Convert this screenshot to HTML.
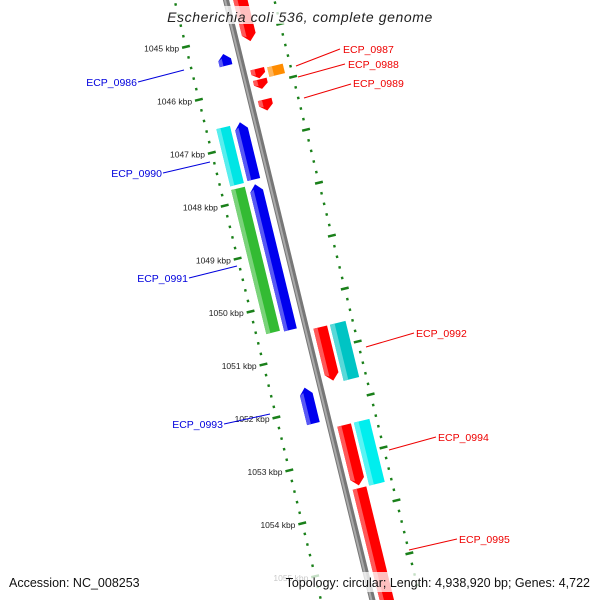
<!DOCTYPE html>
<html><head><meta charset="utf-8"><style>
html,body{margin:0;padding:0;background:#fff;width:600px;height:600px;overflow:hidden;}
svg{display:block;font-family:"Liberation Sans","DejaVu Sans",sans-serif;overflow:hidden;}
</style></head><body>
<svg id="map" width="600" height="600" viewBox="0 0 600 600" xmlns="http://www.w3.org/2000/svg">
<g id="ring"></g>
<g id="genes"></g>
<g id="labels"></g>
<g>
<rect x="160" y="6" width="280" height="18" fill="#fff" opacity="0.75"/>
<text x="300" y="22" text-anchor="middle" font-size="14" font-style="italic" fill="#222" letter-spacing="0.6">Escherichia coli 536, complete genome</text>
</g>
<g>
<rect x="255" y="572" width="340" height="20" fill="#fff" opacity="0.75"/>
<text x="9" y="587" font-size="12.5" fill="#111">Accession: NC_008253</text>
<text x="590" y="587" text-anchor="end" font-size="12.5" fill="#111">Topology: circular; Length: 4,938,920 bp; Genes: 4,722</text>
</g>
</svg>
<script>
const tickKbp=[1045,1046,1047,1048,1049,1050,1051,1052,1053,1054,1055];
const geneNames=['g-top','ECP_0986','ECP_0987','ECP_0989','ECP_0988','g-red-c','ECP_0990','g-blue-a','ECP_0991','g-blue-b','ECP_0992','g-cyan-a','ECP_0993','ECP_0994','g-cyan-b','ECP_0995'];
const geneStart=[1043.97,1045.29,1045.70,1045.90,1045.72,1046.28,1046.60,1046.58,1047.75,1047.75,1050.58,1050.58,1051.59,1052.43,1052.43,1053.62];
const geneEnd=[1045.18,1045.51,1045.88,1046.08,1045.90,1046.49,1047.68,1047.66,1050.47,1050.50,1051.59,1051.64,1052.27,1053.57,1053.62,1056.08];
const geneStrand=[1,-1,1,1,0,1,0,-1,0,-1,1,0,-1,1,0,1];
const geneLane=['r1','l1','r1','r1','r2','r1','l2','l1','l2','l1','r1','r2','l1','r1','r2','r1'];
const geneColor=['#ff0000','#0000ee','#ff0000','#ff0000','#ff8c00','#ff0000','#00e5e5','#0000ee','#33bb33','#0000ee','#ff0000','#00c4c4','#0000ee','#ff0000','#00eeee','#ff0000'];
const NS='http://www.w3.org/2000/svg';
const TH=Math.atan(0.244),C=Math.cos(TH),S=Math.sin(TH);
const X0=226,V0=36,PER=54.5;
function vOf(k){return V0+(k-1045)*PER;}
function pt(u,v){return [X0+u*C+v*S,-u*S+v*C];}
const lanes={l1:[-22,-9],l2:[-40,-26],r1:[7,21],r2:[24,40]};
function mk(tag,attrs,parent){const e=document.createElementNS(NS,tag);for(const k in attrs)e.setAttribute(k,attrs[k]);parent.appendChild(e);return e;}
const ring=document.getElementById('ring');
{const a=pt(0,-40),b=pt(0,640);
const l1=mk('line',{x1:a[0],y1:a[1],x2:b[0],y2:b[1],stroke:'#777','stroke-width':6},ring);


const l2=mk('line',{x1:a[0]-1,y1:a[1],x2:b[0]-1,y2:b[1],stroke:'#aaa','stroke-width':2},ring);

}
for(let k=1044;k<=1055.61;k+=0.2){
 const kk=Math.round(k*10)/10;const major=Math.abs(kk-Math.round(kk))<0.01;
 [-50,47].forEach(u=>{
  const v=vOf(kk);const hl=major?4:1.2;
  const a=pt(u-hl,v),b=pt(u+hl,v);
  const t=mk('line',{x1:a[0],y1:a[1],x2:b[0],y2:b[1],stroke:'#1a801a','stroke-width':2.5},ring);
  
  
 });
}
tickKbp.forEach(k=>{
 const p=pt(-57,vOf(k));
 const t=mk('text',{x:p[0],y:p[1]+3,'text-anchor':'end','font-size':'8.5',fill:'#222'},ring);
 t.textContent=k+' kbp';
 
 
});
function lighten(c){const n=parseInt(c.slice(1),16);let r=n>>16,g=(n>>8)&255,b=n&255;r=Math.round(r+(255-r)*0.35);g=Math.round(g+(255-g)*0.35);b=Math.round(b+(255-b)*0.35);return 'rgb('+r+','+g+','+b+')';}
const G=document.getElementById('genes');
geneNames.forEach((nm,i)=>{
 const [u0,u1]=lanes[geneLane[i]];const a=vOf(geneStart[i]),b=vOf(geneEnd[i]);const um=(u0+u1)/2;const s=geneStrand[i];const h=Math.min(7,(b-a)/2);
 let P;
 if(s===1)P=[[u0,a],[u1,a],[u1,b-h],[um,b],[u0,b-h]];
 else if(s===-1)P=[[um,a],[u1,a+h],[u1,b],[u0,b],[u0,a+h]];
 else P=[[u0,a],[u1,a],[u1,b],[u0,b]];
 const g=mk('g',{},G);
 
 
 const poly=mk('polygon',{points:P.map(q=>pt(q[0],q[1]).join(',')).join(' '),fill:geneColor[i]},g);
 
 
 const w=(u1-u0)*0.3;
 const st=[[u0,a+(s===-1?h:0)],[u0+w,a+(s===-1?h*0.7:0)],[u0+w,b-(s===1?h*0.7:0)],[u0,b-(s===1?h:0)]];
 const hi=mk('polygon',{points:st.map(q=>pt(q[0],q[1]).join(',')).join(' '),fill:lighten(geneColor[i])},g);
 
 
});
const labelText=['ECP_0986','ECP_0990','ECP_0991','ECP_0993','ECP_0987','ECP_0988','ECP_0989','ECP_0992','ECP_0994','ECP_0995'];
const labelTx=[137,162,188,223,343,348,353,416,438,459];
const labelTy=[86,177,282,428,53,68,87,337,441,543];
const lineEnd=[[138,82,184,70],[163,173,210,162],[189,278,237,266],[224,424,270,414],[296,66,340,49],[298,77,345,64],[304,98,351,84],[366,347,414,333],[389,450,436,437],[409,550,457,539]];
const L=document.getElementById('labels');
labelText.forEach((t,i)=>{
 const left=i<4;const col=left?'#0000dd':'#ee0000';const ln=lineEnd[i];
 const l=mk('line',{x1:ln[0],y1:ln[1],x2:ln[2],y2:ln[3],stroke:col,'stroke-width':1},L);
 
 
 const tx=mk('text',{x:labelTx[i],y:labelTy[i],'text-anchor':left?'end':'start','font-size':'10.5',fill:col},L);
 tx.textContent=t;
 
 
});
</script>
</body></html>
